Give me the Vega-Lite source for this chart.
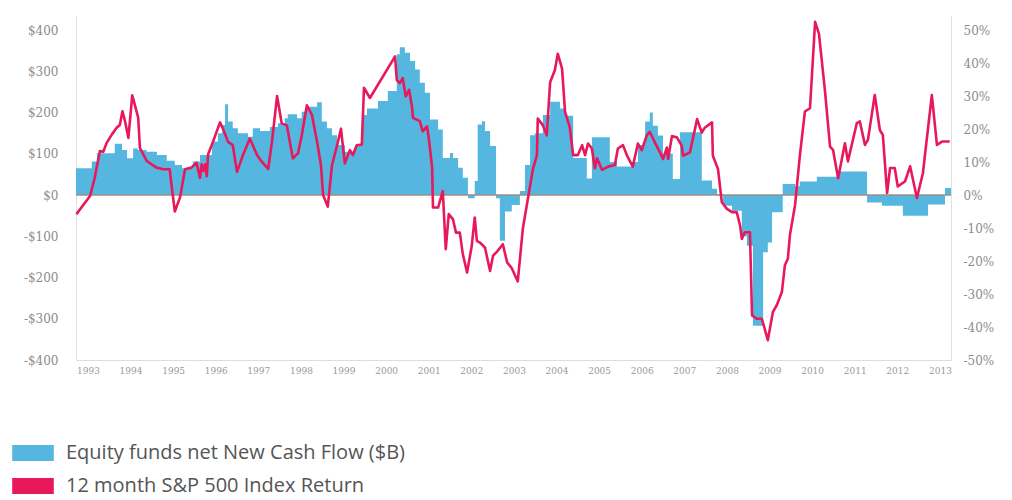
{
  "$schema": "https://vega.github.io/schema/vega-lite/v6.json",
  "width": 875,
  "height": 344,
  "autosize": {"type": "none"},
  "padding": {"left": 76, "top": 16, "right": 61, "bottom": 140},
  "background": "white",
  "config": {"view": {"stroke": null}},
  "datasets": {
    "flows": [
      {"t": 1992.72, "v": 65}, {"t": 1993.09, "v": 81}, {"t": 1993.21, "v": 101}, {"t": 1993.63, "v": 124},
      {"t": 1993.80, "v": 109}, {"t": 1993.92, "v": 89}, {"t": 1994.06, "v": 113}, {"t": 1994.17, "v": 109},
      {"t": 1994.38, "v": 105}, {"t": 1994.62, "v": 97}, {"t": 1994.85, "v": 83}, {"t": 1995.04, "v": 73},
      {"t": 1995.21, "v": 65}, {"t": 1995.46, "v": 81}, {"t": 1995.63, "v": 97}, {"t": 1995.91, "v": 130},
      {"t": 1996.05, "v": 150}, {"t": 1996.15, "v": 170}, {"t": 1996.22, "v": 220}, {"t": 1996.29, "v": 178},
      {"t": 1996.40, "v": 162}, {"t": 1996.52, "v": 150}, {"t": 1996.76, "v": 141}, {"t": 1996.87, "v": 162},
      {"t": 1997.04, "v": 155}, {"t": 1997.27, "v": 165}, {"t": 1997.46, "v": 174}, {"t": 1997.62, "v": 186},
      {"t": 1997.69, "v": 196}, {"t": 1997.91, "v": 186}, {"t": 1998.02, "v": 202}, {"t": 1998.14, "v": 214},
      {"t": 1998.38, "v": 225}, {"t": 1998.49, "v": 178}, {"t": 1998.61, "v": 162}, {"t": 1998.73, "v": 145},
      {"t": 1998.85, "v": 121}, {"t": 1999.03, "v": 105}, {"t": 1999.27, "v": 121}, {"t": 1999.43, "v": 194},
      {"t": 1999.55, "v": 210}, {"t": 1999.81, "v": 228}, {"t": 2000.04, "v": 252}, {"t": 2000.25, "v": 341},
      {"t": 2000.32, "v": 358}, {"t": 2000.44, "v": 345}, {"t": 2000.56, "v": 325}, {"t": 2000.68, "v": 304},
      {"t": 2000.79, "v": 272}, {"t": 2000.91, "v": 248}, {"t": 2001.03, "v": 183}, {"t": 2001.22, "v": 159},
      {"t": 2001.33, "v": 90}, {"t": 2001.50, "v": 102}, {"t": 2001.57, "v": 90}, {"t": 2001.69, "v": 66},
      {"t": 2001.80, "v": 42}, {"t": 2001.92, "v": -8}, {"t": 2002.08, "v": 34}, {"t": 2002.15, "v": 171},
      {"t": 2002.25, "v": 179}, {"t": 2002.32, "v": 155}, {"t": 2002.44, "v": 119}, {"t": 2002.58, "v": -8},
      {"t": 2002.67, "v": -111}, {"t": 2002.79, "v": -40}, {"t": 2002.95, "v": -24}, {"t": 2003.14, "v": 10},
      {"t": 2003.26, "v": 73}, {"t": 2003.38, "v": 145}, {"t": 2003.49, "v": 150}, {"t": 2003.68, "v": 194},
      {"t": 2003.85, "v": 226}, {"t": 2004.08, "v": 210}, {"t": 2004.20, "v": 192}, {"t": 2004.39, "v": 90},
      {"t": 2004.71, "v": 40}, {"t": 2004.83, "v": 140}, {"t": 2005.25, "v": 80}, {"t": 2005.42, "v": 69},
      {"t": 2005.77, "v": 80}, {"t": 2005.91, "v": 121}, {"t": 2006.08, "v": 178}, {"t": 2006.19, "v": 200},
      {"t": 2006.26, "v": 168}, {"t": 2006.38, "v": 144}, {"t": 2006.50, "v": 100}, {"t": 2006.73, "v": 39},
      {"t": 2006.90, "v": 152}, {"t": 2007.41, "v": 35}, {"t": 2007.65, "v": 15}, {"t": 2007.77, "v": 2},
      {"t": 2007.91, "v": -26}, {"t": 2008.12, "v": -38}, {"t": 2008.35, "v": -100}, {"t": 2008.47, "v": -123},
      {"t": 2008.61, "v": -317}, {"t": 2008.85, "v": -139}, {"t": 2008.96, "v": -115}, {"t": 2009.06, "v": -42},
      {"t": 2009.31, "v": 27}, {"t": 2009.60, "v": 21}, {"t": 2009.71, "v": 33}, {"t": 2010.11, "v": 44},
      {"t": 2010.61, "v": 57}, {"t": 2011.29, "v": -18}, {"t": 2011.64, "v": -26}, {"t": 2012.13, "v": -50},
      {"t": 2012.72, "v": -23}, {"t": 2013.12, "v": 17}, {"t": 2013.26, "v": 17}
    ],
    "ret": [
      {"t": 1992.73, "r": -5.8}, {"t": 1993.05, "r": -0.3}, {"t": 1993.16, "r": 5.2}, {"t": 1993.28, "r": 13.3},
      {"t": 1993.36, "r": 13.1}, {"t": 1993.44, "r": 15.8}, {"t": 1993.56, "r": 18.3}, {"t": 1993.67, "r": 20.3},
      {"t": 1993.75, "r": 21.3}, {"t": 1993.81, "r": 25.4}, {"t": 1993.87, "r": 22.4}, {"t": 1993.95, "r": 17.3},
      {"t": 1994.04, "r": 30.2}, {"t": 1994.10, "r": 27.4}, {"t": 1994.18, "r": 23.4}, {"t": 1994.22, "r": 14.3},
      {"t": 1994.38, "r": 10.3}, {"t": 1994.61, "r": 8.3}, {"t": 1994.77, "r": 7.8}, {"t": 1994.92, "r": 7.8},
      {"t": 1994.96, "r": 3.2}, {"t": 1995.04, "r": -5.0}, {"t": 1995.16, "r": -0.8}, {"t": 1995.28, "r": 7.8},
      {"t": 1995.43, "r": 8.3}, {"t": 1995.55, "r": 9.8}, {"t": 1995.63, "r": 5.2}, {"t": 1995.67, "r": 9.3},
      {"t": 1995.71, "r": 7.3}, {"t": 1995.75, "r": 9.3}, {"t": 1995.79, "r": 5.7}, {"t": 1995.82, "r": 12.3},
      {"t": 1995.94, "r": 16.3}, {"t": 1996.10, "r": 22.0}, {"t": 1996.17, "r": 20.1}, {"t": 1996.29, "r": 16.1},
      {"t": 1996.40, "r": 15.1}, {"t": 1996.50, "r": 7.0}, {"t": 1996.64, "r": 12.1}, {"t": 1996.80, "r": 17.1},
      {"t": 1996.97, "r": 12.1}, {"t": 1997.08, "r": 10.1}, {"t": 1997.23, "r": 7.9}, {"t": 1997.32, "r": 16.1},
      {"t": 1997.44, "r": 30.0}, {"t": 1997.55, "r": 21.7}, {"t": 1997.67, "r": 21.1}, {"t": 1997.81, "r": 11.1},
      {"t": 1997.93, "r": 12.6}, {"t": 1998.02, "r": 18.1}, {"t": 1998.14, "r": 27.2}, {"t": 1998.26, "r": 24.2},
      {"t": 1998.38, "r": 16.1}, {"t": 1998.47, "r": 9.1}, {"t": 1998.52, "r": 0.0}, {"t": 1998.63, "r": -3.5},
      {"t": 1998.73, "r": 9.1}, {"t": 1998.85, "r": 15.1}, {"t": 1998.94, "r": 20.1}, {"t": 1999.03, "r": 9.6},
      {"t": 1999.15, "r": 13.6}, {"t": 1999.22, "r": 12.1}, {"t": 1999.31, "r": 15.1}, {"t": 1999.43, "r": 15.3},
      {"t": 1999.48, "r": 32.5}, {"t": 1999.62, "r": 29.4}, {"t": 2000.21, "r": 42.0}, {"t": 2000.25, "r": 34.9},
      {"t": 2000.32, "r": 33.9}, {"t": 2000.39, "r": 35.4}, {"t": 2000.46, "r": 29.9}, {"t": 2000.54, "r": 31.9},
      {"t": 2000.61, "r": 26.4}, {"t": 2000.63, "r": 23.4}, {"t": 2000.79, "r": 22.4}, {"t": 2000.86, "r": 19.3},
      {"t": 2000.96, "r": 20.8}, {"t": 2001.00, "r": 17.3}, {"t": 2001.08, "r": 8.3}, {"t": 2001.10, "r": -3.8},
      {"t": 2001.22, "r": -3.8}, {"t": 2001.33, "r": 1.2}, {"t": 2001.40, "r": -16.4}, {"t": 2001.47, "r": -5.8},
      {"t": 2001.57, "r": -7.4}, {"t": 2001.64, "r": -11.4}, {"t": 2001.73, "r": -11.4}, {"t": 2001.80, "r": -17.9},
      {"t": 2001.90, "r": -23.5}, {"t": 2002.01, "r": -15.4}, {"t": 2002.08, "r": -6.8}, {"t": 2002.13, "r": -13.9},
      {"t": 2002.20, "r": -14.4}, {"t": 2002.32, "r": -15.9}, {"t": 2002.44, "r": -23.0}, {"t": 2002.51, "r": -18.4},
      {"t": 2002.62, "r": -16.9}, {"t": 2002.74, "r": -14.9}, {"t": 2002.84, "r": -20.4}, {"t": 2002.95, "r": -22.2},
      {"t": 2003.09, "r": -26.2}, {"t": 2003.21, "r": -10.1}, {"t": 2003.33, "r": -1.0}, {"t": 2003.45, "r": 8.1},
      {"t": 2003.54, "r": 12.1}, {"t": 2003.56, "r": 23.2}, {"t": 2003.68, "r": 21.1}, {"t": 2003.77, "r": 18.1},
      {"t": 2003.85, "r": 34.2}, {"t": 2003.96, "r": 37.8}, {"t": 2004.03, "r": 42.8}, {"t": 2004.13, "r": 38.3},
      {"t": 2004.20, "r": 25.2}, {"t": 2004.31, "r": 20.6}, {"t": 2004.39, "r": 12.1}, {"t": 2004.50, "r": 12.1},
      {"t": 2004.60, "r": 15.1}, {"t": 2004.67, "r": 12.1}, {"t": 2004.74, "r": 15.6}, {"t": 2004.83, "r": 14.1},
      {"t": 2004.90, "r": 8.1}, {"t": 2004.95, "r": 11.1}, {"t": 2005.07, "r": 7.6}, {"t": 2005.21, "r": 8.6},
      {"t": 2005.37, "r": 9.1}, {"t": 2005.44, "r": 14.1}, {"t": 2005.56, "r": 15.1}, {"t": 2005.65, "r": 12.1},
      {"t": 2005.79, "r": 8.6}, {"t": 2005.91, "r": 15.6}, {"t": 2006.00, "r": 13.6}, {"t": 2006.12, "r": 18.1},
      {"t": 2006.19, "r": 19.1}, {"t": 2006.31, "r": 15.9}, {"t": 2006.43, "r": 12.9}, {"t": 2006.50, "r": 10.9},
      {"t": 2006.59, "r": 14.4}, {"t": 2006.62, "r": 10.9}, {"t": 2006.71, "r": 17.9}, {"t": 2006.83, "r": 17.4},
      {"t": 2006.94, "r": 14.9}, {"t": 2006.97, "r": 11.9}, {"t": 2007.13, "r": 12.9}, {"t": 2007.30, "r": 23.0},
      {"t": 2007.41, "r": 18.9}, {"t": 2007.48, "r": 20.4}, {"t": 2007.65, "r": 22.0}, {"t": 2007.67, "r": 11.9},
      {"t": 2007.79, "r": 7.9}, {"t": 2007.88, "r": -2.2}, {"t": 2008.00, "r": -4.2}, {"t": 2008.12, "r": -5.2},
      {"t": 2008.23, "r": -5.2}, {"t": 2008.31, "r": -9.3}, {"t": 2008.35, "r": -13.3}, {"t": 2008.42, "r": -11.3},
      {"t": 2008.54, "r": -11.3}, {"t": 2008.59, "r": -36.5}, {"t": 2008.70, "r": -37.5}, {"t": 2008.82, "r": -37.5},
      {"t": 2008.96, "r": -44.0}, {"t": 2009.08, "r": -35.4}, {"t": 2009.17, "r": -33.4}, {"t": 2009.29, "r": -29.4},
      {"t": 2009.36, "r": -21.3}, {"t": 2009.43, "r": -19.3}, {"t": 2009.48, "r": -12.0}, {"t": 2009.60, "r": -3.0},
      {"t": 2009.71, "r": 11.7}, {"t": 2009.83, "r": 25.3}, {"t": 2009.95, "r": 26.3}, {"t": 2010.07, "r": 52.5},
      {"t": 2010.16, "r": 48.9}, {"t": 2010.30, "r": 31.8}, {"t": 2010.42, "r": 14.7}, {"t": 2010.49, "r": 13.7},
      {"t": 2010.61, "r": 5.1}, {"t": 2010.77, "r": 15.7}, {"t": 2010.84, "r": 10.2}, {"t": 2011.05, "r": 21.8},
      {"t": 2011.12, "r": 22.3}, {"t": 2011.24, "r": 15.2}, {"t": 2011.31, "r": 16.7}, {"t": 2011.47, "r": 30.3},
      {"t": 2011.59, "r": 19.7}, {"t": 2011.66, "r": 18.2}, {"t": 2011.76, "r": 0.6}, {"t": 2011.83, "r": 8.2},
      {"t": 2011.94, "r": 8.2}, {"t": 2012.01, "r": 2.6}, {"t": 2012.18, "r": 4.1}, {"t": 2012.30, "r": 8.7},
      {"t": 2012.46, "r": -0.9}, {"t": 2012.60, "r": 6.6}, {"t": 2012.81, "r": 30.3}, {"t": 2012.93, "r": 15.2},
      {"t": 2013.05, "r": 16.2}, {"t": 2013.23, "r": 16.2}
    ]
  },
  "layer": [
    {
      "layer": [
        {
          "data": {"name": "flows"},
          "mark": {"type": "area", "interpolate": "step-after", "opacity": 1},
          "encoding": {
            "x": {
              "field": "t", "type": "quantitative",
              "scale": {"domain": [1992.72, 2013.26], "nice": false, "zero": false},
              "axis": {
                "title": null, "values": [1993,1994,1995,1996,1997,1998,1999,2000,2001,2002,2003,2004,2005,2006,2007,2008,2009,2010,2011,2012,2013],
                "format": "d", "labelFont": "DejaVu Serif", "labelFontSize": 9, "labelColor": "#999999",
                "ticks": false, "grid": false, "domainColor": "#dddddd", "labelPadding": 6, "labelFlush": false
              }
            },
            "y": {
              "field": "v", "type": "quantitative",
              "scale": {"domain": [-400, 434], "nice": false, "zero": false},
              "axis": {
                "title": null, "values": [-400,-300,-200,-100,0,100,200,300,400],
                "labelExpr": "datum.value < 0 ? '-$' + abs(datum.value) : '$' + datum.value",
                "labelFont": "DejaVu Serif", "labelFontSize": 12, "labelColor": "#8c8c8c",
                "ticks": false, "grid": false, "domainColor": "#e0e0e0", "labelPadding": 18
              }
            },
            "color": {
              "datum": "Equity funds net New Cash Flow ($B)",
              "type": "nominal",
              "scale": {
                "domain": ["Equity funds net New Cash Flow ($B)", "12 month S&P 500 Index Return"],
                "range": ["#55b6e0", "#e8195a"]
              },
              "legend": {
                "title": null, "orient": "none", "legendX": -53, "legendY": 427, "direction": "vertical",
                "padding": 0, "labelFont": "Open Sans", "labelFontSize": 20, "labelColor": "#555555",
                "labelLimit": 0,
                "symbolType": "M-2.6,-1H2.6V1H-2.6Z", "symbolSize": 256, "symbolStrokeWidth": 0,
                "symbolOpacity": 1, "labelOffset": 23, "rowPadding": 13,
                "encode": {"symbols": {"update": {"fill": {"scale": "color", "field": "value"}, "stroke": {"value": "transparent"}, "opacity": {"value": 1}}}}
              }
            }
          }
        },
        {
          "data": {"values": [{"z": 0}]},
          "mark": {"type": "rule", "color": "#9a9082", "strokeWidth": 1.5},
          "encoding": {"y": {"field": "z", "type": "quantitative"}}
        }
      ]
    },
    {
      "data": {"name": "ret"},
      "mark": {"type": "line", "strokeWidth": 2.6, "strokeJoin": "round"},
      "encoding": {
        "x": {"field": "t", "type": "quantitative"},
        "y": {
          "field": "r", "type": "quantitative",
          "scale": {"domain": [-50, 54.25], "nice": false, "zero": false},
          "axis": {
            "orient": "right", "title": null, "values": [-50,-40,-30,-20,-10,0,10,20,30,40,50],
            "labelExpr": "datum.value + '%'",
            "labelFont": "DejaVu Serif", "labelFontSize": 12, "labelColor": "#8c8c8c",
            "ticks": false, "grid": false, "domainColor": "#e0e0e0", "labelPadding": 12
          }
        },
        "color": {"datum": "12 month S&P 500 Index Return", "type": "nominal"}
      }
    }
  ],
  "resolve": {"scale": {"y": "independent"}}
}
